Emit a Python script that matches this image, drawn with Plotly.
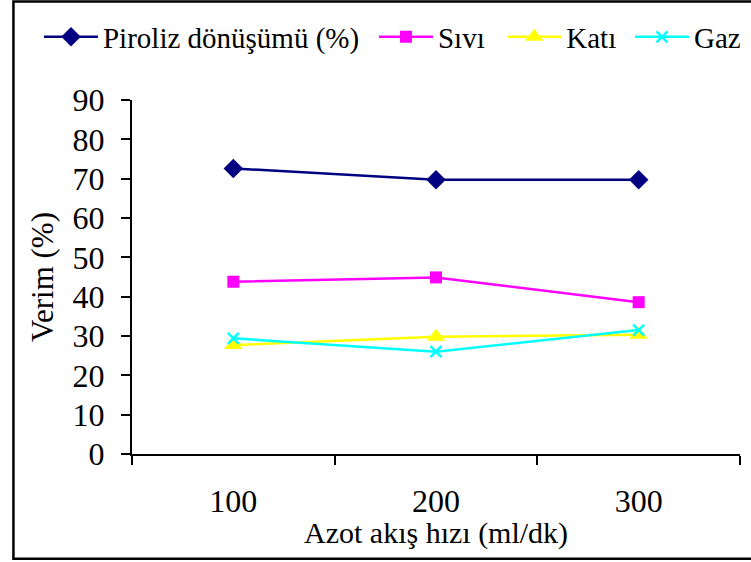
import plotly.graph_objects as go

categories = ["100", "200", "300"]
piroliz = [72.6, 69.7, 69.7]
sivi = [43.8, 44.9, 38.6]
kati = [27.7, 29.8, 30.3]
gaz = [29.4, 26.0, 31.5]

y_ticks = list(range(0, 91, 10))
FONT = "Liberation Serif, Times New Roman, serif"

fig = go.Figure()
series = [
    ("Piroliz dönüşümü (%)", piroliz, "#000080", "diamond", 15, 0, "legend", -0.153),
    ("Sıvı", sivi, "#FF00FF", "square", 12, 0, "legend2", 0.398),
    ("Katı", kati, "#FFFF00", "triangle-up", 16, 0, "legend3", 0.609),
    ("Gaz", gaz, "#00FFFF", "x-thin", 11, 2.5, "legend4", 0.819),
]
legend_layouts = {}
for name, vals, color, sym, size, lw, leg, lx in series:
    marker = dict(symbol=sym, size=size, color=color)
    if lw:
        marker["line"] = dict(color=color, width=lw)
    fig.add_trace(go.Scatter(
        x=categories, y=vals, name=name, mode="lines+markers",
        line=dict(color=color, width=2.5), marker=marker, legend=leg,
    ))
    legend_layouts[leg] = dict(orientation="h", x=lx, xanchor="left", y=1.178,
                               yanchor="middle", font=dict(size=29), itemwidth=54,
                               bgcolor="rgba(0,0,0,0)", borderwidth=0)

fig.update_layout(
    width=751, height=562,
    margin=dict(l=132, r=11, t=100, b=108, autoexpand=False),
    paper_bgcolor="white", plot_bgcolor="white",
    font=dict(family=FONT, size=30, color="black"),
    showlegend=True,
    xaxis=dict(type="category", range=[-0.5, 2.5], showline=True, linecolor="black",
               linewidth=2, ticks="outside", ticklen=9, tickwidth=2, tickcolor="black",
               tickson="boundaries", showgrid=False, zeroline=False,
               ticklabelstandoff=18, tickfont=dict(size=32)),
    yaxis=dict(range=[0, 90], tickvals=y_ticks, showline=True, linecolor="black",
               linewidth=2, ticks="outside", ticklen=9, tickwidth=2, tickcolor="black",
               showgrid=False, zeroline=False, ticklabelstandoff=10,
               tickfont=dict(size=32)),
    shapes=[dict(type="rect", xref="paper", yref="paper",
                 x0=-0.195, x1=1.05, y0=-0.296, y1=1.278,
                 line=dict(color="black", width=2.5), fillcolor="rgba(0,0,0,0)")],
    annotations=[
        dict(text="Azot akış hızı (ml/dk)", xref="paper", yref="paper", x=0.5, y=-0.222,
             xanchor="center", yanchor="middle", showarrow=False, font=dict(size=30)),
        dict(text="Verim (%)", xref="paper", yref="paper", x=-0.148, y=0.5,
             xanchor="center", yanchor="middle", textangle=-90, showarrow=False,
             font=dict(size=31)),
    ],
    **legend_layouts,
)

fig.write_html("out.html")
